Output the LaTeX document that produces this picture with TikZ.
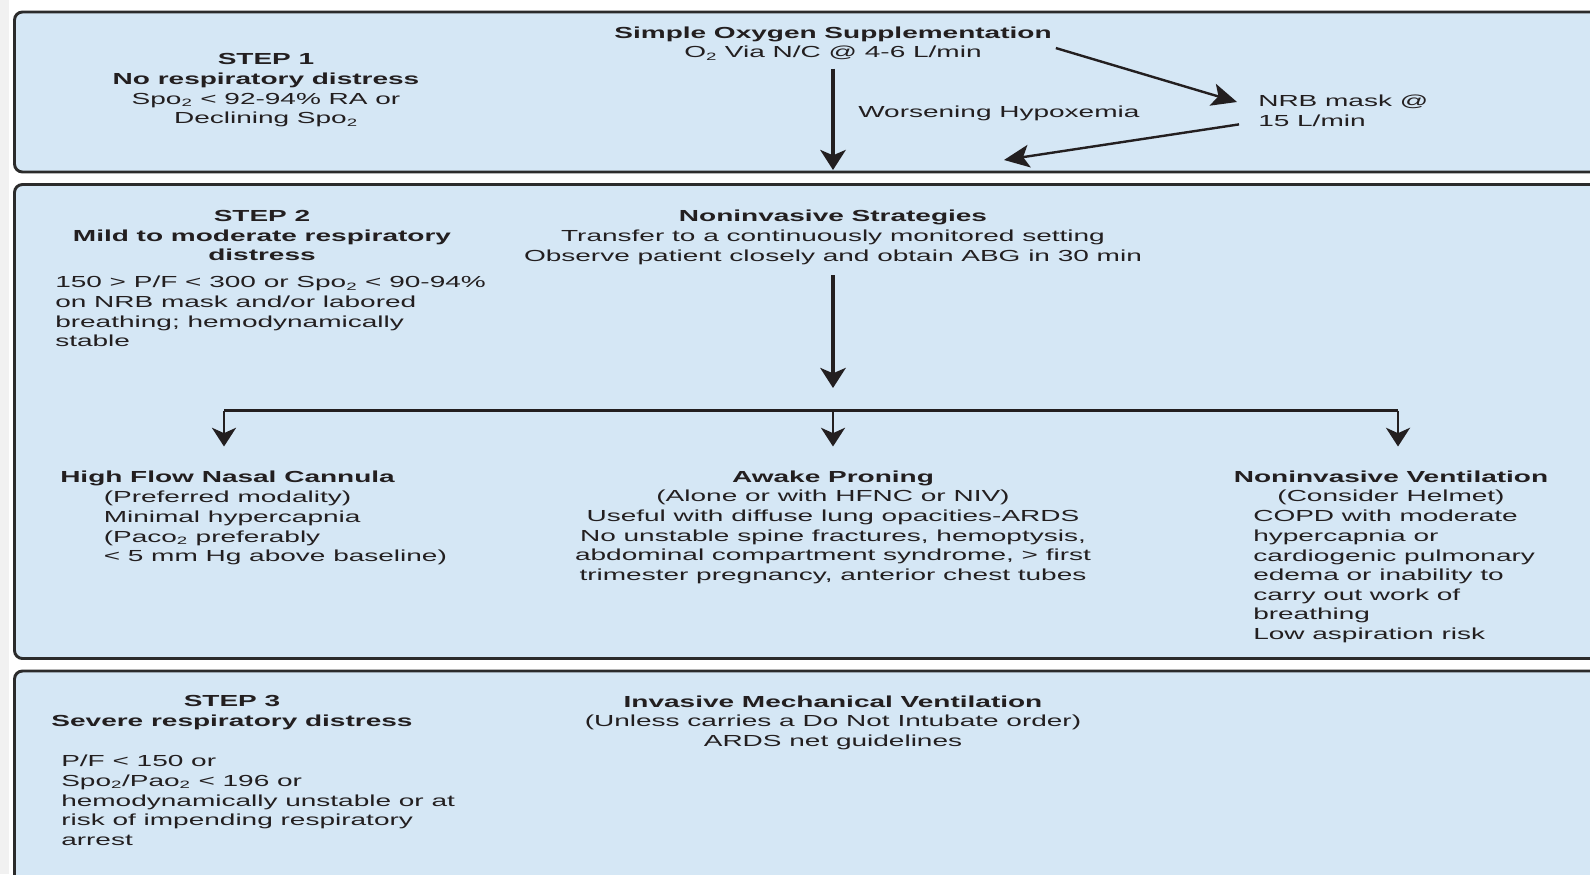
\documentclass[tikz,border=0pt]{standalone}
\usepackage{fontspec}
\setmainfont{Liberation Sans}[FakeStretch=1.75]
\usepackage{xcolor}
\usetikzlibrary{arrows.meta,positioning}

\definecolor{panelblue}{HTML}{D5E7F5}
\definecolor{inkgray}{HTML}{231F20}
\definecolor{framegray}{HTML}{2B2B2B}
\definecolor{stripgray}{HTML}{F1F1F1}

\begin{document}
\begin{tikzpicture}[x=0.75pt, y=-0.75pt,
    panel/.style={draw=framegray, line width=2.2pt, fill=panelblue, rounded corners=6pt},
    txt/.style={inner sep=0pt, text=inkgray, font=\fontsize{12}{14.7}\selectfont, align=center, anchor=north},
    lefttxt/.style={txt, align=left, anchor=north west},
    bigarrow/.style={-{Stealth[length=15pt, width=19pt, inset=4pt]}, line width=3.4pt, draw=inkgray},
    smallarrow/.style={-{Stealth[length=14pt, width=18pt, inset=4pt]}, line width=2.2pt, draw=inkgray},
    slimarrow/.style={-{Stealth[length=19pt, width=17pt, inset=4.5pt]}, line width=1.8pt, draw=inkgray},
    barline/.style={line width=2.2pt, draw=inkgray}]

      \useasboundingbox (0,0) rectangle (1590,874);
      \clip (0,0) rectangle (1590,874);
      \fill[white] (0,0) rectangle (1590,874);
      \fill[stripgray] (0,0) rectangle (9,874);

      % Panels
      \draw[panel] (14.5,12) rectangle (1640,172);
      \draw[panel] (14.5,184.5) rectangle (1640,658.5);
      \draw[panel] (14.5,671) rectangle (1640,940);

      % Step 1 nodes
      \node[txt] (step1) at (266,53.5) {\textbf{STEP 1}\\ \textbf{No respiratory distress}\\ Spo\textsubscript{2} < 92-94\% RA or\\ Declining Spo\textsubscript{2}};
      \node[txt] (oxygen) at (833,26.5) {\textbf{Simple Oxygen Supplementation}\\ O\textsubscript{2} Via N/C @ 4-6 L/min};
      \node[lefttxt] (worse) at (858,105.5) {Worsening Hypoxemia};
      \node[lefttxt] (nrb) at (1258,95) {NRB mask @\\ 15 L/min};
      \coordinate (step1end) at (833,170);
      \coordinate (nrbback) at (1004,160);

      % Step 1 arrows
      \draw[bigarrow, shorten <=6pt] (oxygen) -- (step1end);
      \draw[slimarrow] ([shift={(4,4.5)}]oxygen.east) -- ([shift={(-21,7)}]nrb.north west);
      \draw[slimarrow] ([shift={(-19,-2.5)}]nrb.south west) -- (nrbback);

      % Step 2 nodes
      \node[txt] (step2) at (262,210) {\textbf{STEP 2}\\ \textbf{Mild to moderate respiratory}\\ \textbf{distress}};
      \node[lefttxt] (step2crit) at (55,276) {150 > P/F < 300 or Spo\textsubscript{2} < 90-94\%\\ on NRB mask and/or labored\\ breathing; hemodynamically\\ stable};
      \node[txt] (noninv) at (833,210) {\textbf{Noninvasive Strategies}\\ Transfer to a continuously monitored setting\\ Observe patient closely and obtain ABG in 30 min};
      \coordinate (noninvend) at (833,388);
      \coordinate (split) at (833,410.5);
      \coordinate (splitleft) at (224,410.5);
      \coordinate (splitright) at (1398,410.5);

      \node[lefttxt] (hfnc) at (60,470.5) {\textbf{High Flow Nasal Cannula}};
      \node[lefttxt] (hfncnote) at (103.5,491) {(Preferred modality)\\ Minimal hypercapnia\\ (Paco\textsubscript{2} preferably\\ < 5 mm Hg above baseline)};
      \node[txt] (prone) at (833,470.5) {\textbf{Awake Proning}\\ (Alone or with HFNC or NIV)\\ Useful with diffuse lung opacities-ARDS\\ No unstable spine fractures, hemoptysis,\\ abdominal compartment syndrome, > first\\ trimester pregnancy, anterior chest tubes};
      \node[txt] (niv) at (1391,470.5) {\textbf{Noninvasive Ventilation}\\ (Consider Helmet)};
      \node[lefttxt] (nivnote) at (1253,510) {COPD with moderate\\ hypercapnia or\\ cardiogenic pulmonary\\ edema or inability to\\ carry out work of\\ breathing\\ Low aspiration risk};

      % Step 2 arrows
      \draw[bigarrow, shorten <=8pt] (noninv) -- (noninvend);
      \draw[barline] (splitleft) -- (splitright);
      \draw[smallarrow, shorten >=18pt] (splitleft) -- (splitleft |- hfnc.north);
      \draw[smallarrow, shorten >=18pt] (split) -- (prone);
      \draw[smallarrow, shorten >=18pt] (splitright) -- (splitright |- niv.north);

      % Step 3 nodes
      \node[txt] (step3) at (232,695.5) {\textbf{STEP 3}\\ \textbf{Severe respiratory distress}};
      \node[lefttxt] (step3crit) at (61,755) {P/F < 150 or\\ Spo\textsubscript{2}/Pao\textsubscript{2} < 196 or\\ hemodynamically unstable or at\\ risk of impending respiratory\\ arrest};
      \node[txt] (imv) at (833,695.5) {\textbf{Invasive Mechanical Ventilation}\\ (Unless carries a Do Not Intubate order)\\ ARDS net guidelines};
    \end{tikzpicture}
\end{document}
